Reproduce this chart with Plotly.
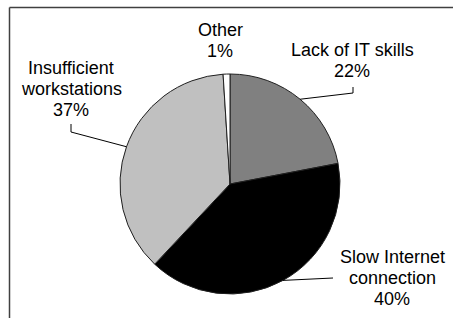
import math
import plotly.graph_objects as go

categories = ["Lack of IT skills", "Slow Internet connection", "Insufficient workstations", "Other"]
values = [22, 40, 37, 1]
label_lines = [["Lack of IT skills"], ["Slow Internet", "connection"], ["Insufficient", "workstations"], ["Other"]]
colors = ["#808080", "#000000", "#c0c0c0", "#ffffff"]

W, H = 453, 318
cx, cy, R = 230, 184, 110  # pie centre / radius in pixels

# label anchor (text centre x, first line centre y) and leader-line elbow
label_pos = [(352, 50), (392, 257), (71, 68), (220, 30)]
leader_elbow = [[(353, 87), (353, 93)], [(333, 278)], [(71, 124), (71, 132)], None]

def px(x):
    return x / W

def py(y):
    return 1 - y / H

fig = go.Figure(go.Pie(
    labels=categories,
    values=values,
    sort=False,
    direction="clockwise",
    rotation=0,
    textinfo="none",
    marker=dict(colors=colors, line=dict(color="#202020", width=1)),
    domain=dict(x=[px(cx - R), px(cx + R)], y=[py(cy + R), py(cy - R)]),
    showlegend=False,
))

total = sum(values)
annotations = []
shapes = []
cum = 0
font = dict(family="Liberation Sans, Arial, sans-serif", size=18, color="#000000")
for i, v in enumerate(values):
    mid = (cum + v / 2) / total * 2 * math.pi
    cum += v
    lines = label_lines[i] + [f"{round(v / total * 100)}%"]
    lx, ly = label_pos[i]
    for k, t in enumerate(lines):
        annotations.append(dict(
            x=px(lx), y=py(ly + 21 * k), xref="paper", yref="paper",
            text=t, showarrow=False, xanchor="center", yanchor="middle", font=font,
        ))
    if leader_elbow[i]:
        ex = cx + R * math.sin(mid)
        ey = cy - R * math.cos(mid)
        pts = leader_elbow[i] + [(ex, ey)]
        path = "M " + " L ".join(f"{px(a)},{py(b)}" for a, b in pts)
        shapes.append(dict(type="path", path=path, xref="paper", yref="paper",
                           line=dict(color="#000000", width=1)))

# chart-area frame (only left and top edges visible in the crop)
shapes.append(dict(type="line", xref="paper", yref="paper",
                   x0=px(9.5), x1=px(9.5), y0=py(7.5), y1=0,
                   line=dict(color="#404040", width=1.5)))
shapes.append(dict(type="line", xref="paper", yref="paper",
                   x0=px(9.5), x1=1, y0=py(7.5), y1=py(7.5),
                   line=dict(color="#404040", width=1.5)))

fig.update_layout(
    width=W, height=H,
    margin=dict(l=0, r=0, t=0, b=0),
    paper_bgcolor="#ffffff",
    plot_bgcolor="#ffffff",
    annotations=annotations,
    shapes=shapes,
)

fig.write_html(
    "out.html",
    config={"displayModeBar": False},
    post_script=(
        "document.documentElement.style.overflow='hidden';"
        "document.documentElement.style.margin='0';"
        "document.body.style.margin='0';document.body.style.padding='0';"
        "document.body.style.overflow='hidden';"
    ),
)
